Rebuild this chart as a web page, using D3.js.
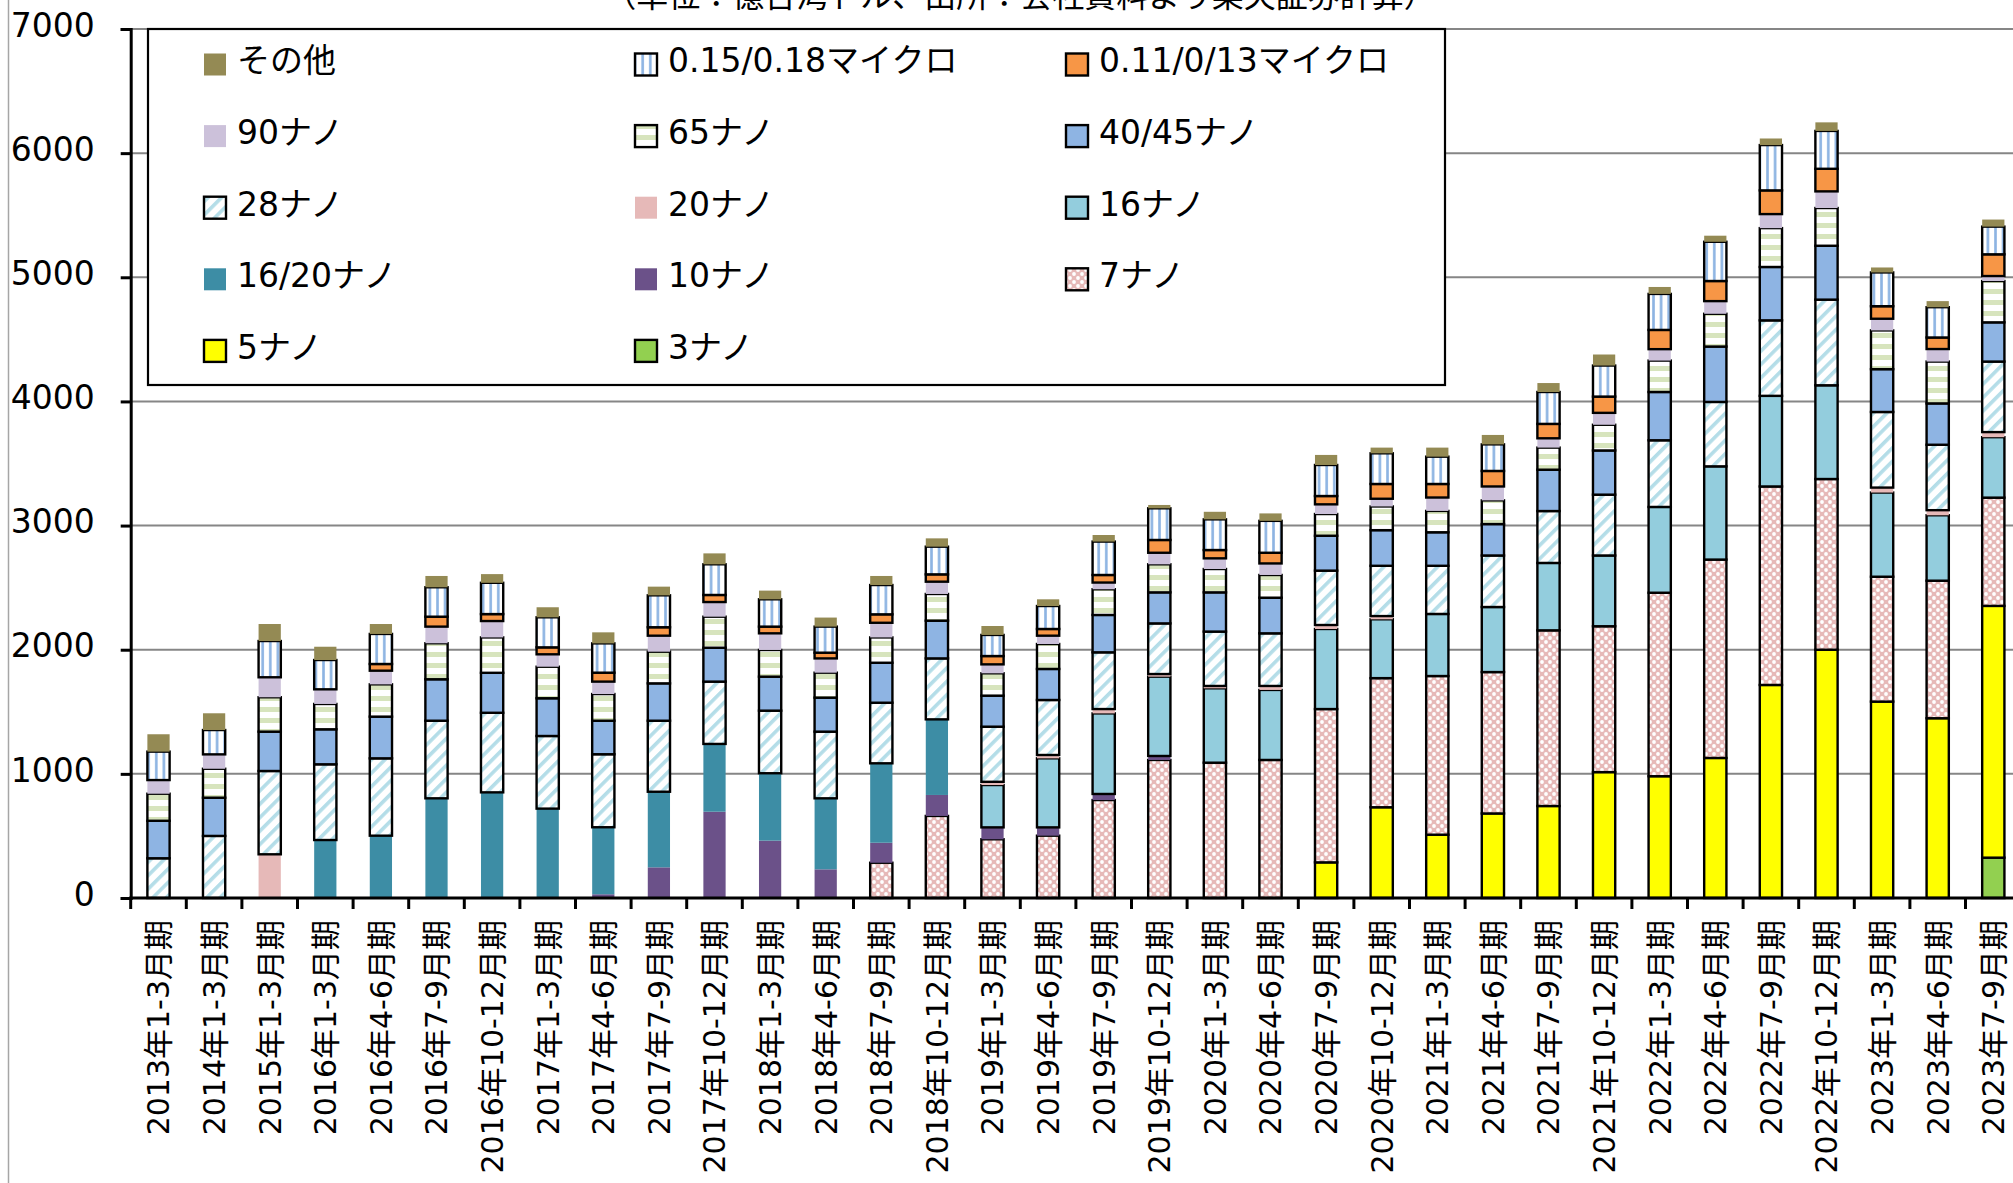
<!DOCTYPE html>
<html><head><meta charset="utf-8">
<script src="https://cdn.jsdelivr.net/npm/d3@7"></script>
<style>
html,body{margin:0;padding:0;background:#fff;overflow:hidden}
svg{display:block}
</style></head><body>
<svg id="chart" width="2013" height="1183"></svg>
<script>
// ---------------- DATA ----------------
const categories = ["2013年1-3月期","2014年1-3月期","2015年1-3月期","2016年1-3月期","2016年4-6月期","2016年7-9月期","2016年10-12月期","2017年1-3月期","2017年4-6月期","2017年7-9月期","2017年10-12月期","2018年1-3月期","2018年4-6月期","2018年7-9月期","2018年10-12月期","2019年1-3月期","2019年4-6月期","2019年7-9月期","2019年10-12月期","2020年1-3月期","2020年4-6月期","2020年7-9月期","2020年10-12月期","2021年1-3月期","2021年4-6月期","2021年7-9月期","2021年10-12月期","2022年1-3月期","2022年4-6月期","2022年7-9月期","2022年10-12月期","2023年1-3月期","2023年4-6月期","2023年7-9月期"];

const nm3   = [0,0,0,0,0,0,0,0,0,0,0,0,0,0,0,0,0,0,0,0,0,0,0,0,0,0,0,0,0,0,0,0,0,325];
const nm5   = [0,0,0,0,0,0,0,0,0,0,0,0,0,0,0,0,0,0,0,0,0,287,731,510,681,741,1014,981,1128,1716,2000,1582,1448,2028];
const nm7   = [0,0,0,0,0,0,0,0,0,0,0,0,0,284,661,473,502,789,1112,1090,1112,1235,1040,1278,1139,1415,1175,1478,1598,1599,1375,1006,1108,872];
const nm10  = [0,0,0,0,0,0,0,0,30,247,695,462,231,161,169,96,67,49,32,0,0,0,0,0,0,0,0,0,0,0,0,0,0,0];
const nm1620= [0,0,0,467,502,803,851,720,540,609,546,543,572,640,609,0,0,0,0,0,0,0,0,0,0,0,0,0,0,0,0,0,0,0];
const nm16  = [0,0,0,0,0,0,0,0,0,0,0,0,0,0,0,341,556,649,639,599,564,645,474,500,524,543,570,691,751,730,755,678,527,487];
const nm20  = [0,0,352,0,0,0,0,0,0,0,0,0,0,0,0,26,27,35,21,19,32,32,26,0,0,0,0,0,0,0,0,40,41,41];
const nm28  = [320,500,671,610,623,625,641,585,588,572,502,504,537,488,491,444,443,457,408,438,424,438,405,388,415,418,490,537,519,608,690,609,527,568];
const nm4045= [302,308,317,282,336,334,322,304,270,301,273,274,274,322,304,250,250,301,250,316,287,281,287,270,253,333,356,389,446,430,434,345,333,316];
const nm65  = [218,233,277,204,260,290,285,254,215,255,250,215,201,204,215,180,201,207,226,188,183,175,191,172,191,178,207,253,264,313,304,312,337,333];
const nm90  = [110,116,161,118,110,134,132,100,100,129,118,134,115,118,99,72,67,54,93,86,93,78,62,108,112,75,96,92,102,113,134,94,101,40];
const um011 = [0,0,0,0,54,80,56,56,72,68,57,54,46,68,59,67,54,61,103,67,86,67,119,109,125,116,131,155,162,191,182,101,93,175];
const um015 = [229,196,292,236,242,237,252,242,236,257,247,220,210,236,223,170,185,269,255,247,257,250,247,220,214,257,250,290,316,365,305,272,244,223];
const others= [140,135,137,107,80,91,70,81,89,70,88,70,73,73,67,72,54,53,27,61,60,81,46,73,76,72,89,56,49,53,69,40,49,57];

const yTickValues = [0,1000,2000,3000,4000,5000,6000,7000];
const titleText = "（単位：億台湾ドル、出所：会社資料より楽天証券計算）";

// legend order (row-major, 3 columns)
const legendOrder = ["other","u015","u011","n90","n65","n4045","n28","n20","n16","n1620","n10","n7","n5","n3"];

// ---------------- SERIES DEFINITIONS (bottom to top) ----------------
const seriesDefs = [
  {key:"n3",    name:"3ナノ",            values:nm3,    fill:"#92D050",      border:true},
  {key:"n5",    name:"5ナノ",            values:nm5,    fill:"#FFFF00",      border:true},
  {key:"n7",    name:"7ナノ",            values:nm7,    fill:"url(#p7)",     border:true},
  {key:"n10",   name:"10ナノ",           values:nm10,   fill:"#6B5189",      border:false},
  {key:"n1620", name:"16/20ナノ",        values:nm1620, fill:"#3D8DA5",      border:false},
  {key:"n16",   name:"16ナノ",           values:nm16,   fill:"#93CDDD",      border:true},
  {key:"n20",   name:"20ナノ",           values:nm20,   fill:"#E6B9B8",      border:false},
  {key:"n28",   name:"28ナノ",           values:nm28,   fill:"url(#p28)",    border:true},
  {key:"n4045", name:"40/45ナノ",        values:nm4045, fill:"#8EB4E3",      border:true},
  {key:"n65",   name:"65ナノ",           values:nm65,   fill:"url(#p65)",    border:true},
  {key:"n90",   name:"90ナノ",           values:nm90,   fill:"#CCC1DA",      border:false},
  {key:"u011",  name:"0.11/0/13マイクロ", values:um011,  fill:"#F79646",      border:true},
  {key:"u015",  name:"0.15/0.18マイクロ", values:um015,  fill:"url(#p015)",   border:true},
  {key:"other", name:"その他",            values:others, fill:"#948A54",      border:false}
];

// table for d3.stack
const table = categories.map((c,i)=>{
  const row = {cat:c};
  seriesDefs.forEach(s=>{ row[s.key] = s.values[i]; });
  return row;
});

// ---------------- SETUP ----------------
const svg = d3.select("#chart");
const FONT = "'DejaVu Sans','Noto Sans CJK JP',sans-serif";
const axisX0 = 130.7, axisY0 = 898, axisYTop = 29;

const x = d3.scaleBand().domain(categories)
  .range([axisX0, axisX0 + 55.6*categories.length])
  .paddingInner(0.6).paddingOuter(0.3);
const y = d3.scaleLinear().domain([0,7000]).range([axisY0, axisYTop]);

// patterns
const defs = svg.append("defs");
const p28 = defs.append("pattern").attr("id","p28").attr("patternUnits","userSpaceOnUse")
  .attr("width",9.5).attr("height",9.5).attr("patternTransform","rotate(45)");
p28.append("rect").attr("width",9.5).attr("height",9.5).attr("fill","#fff");
p28.append("rect").attr("x",0).attr("width",3.6).attr("height",9.5).attr("fill","#B4DDE8");
const p015 = defs.append("pattern").attr("id","p015").attr("patternUnits","userSpaceOnUse")
  .attr("width",7.6).attr("height",10);
p015.append("rect").attr("width",7.6).attr("height",10).attr("fill","#fff");
p015.append("rect").attr("x",3).attr("width",2.6).attr("height",10).attr("fill","#8DB4E2");
const p65 = defs.append("pattern").attr("id","p65").attr("patternUnits","userSpaceOnUse")
  .attr("width",10).attr("height",11);
p65.append("rect").attr("width",10).attr("height",11).attr("fill","#fff");
p65.append("rect").attr("y",3).attr("width",10).attr("height",5).attr("fill","#D7E4BD");
const p7 = defs.append("pattern").attr("id","p7").attr("patternUnits","userSpaceOnUse")
  .attr("width",8).attr("height",8);
p7.append("rect").attr("width",8).attr("height",8).attr("fill","#E6B9B8");
p7.append("circle").attr("cx",2).attr("cy",2).attr("r",1.9).attr("fill","#fff");
p7.append("circle").attr("cx",6).attr("cy",6).attr("r",1.9).attr("fill","#fff");

// left border line
svg.append("line").attr("x1",8.5).attr("x2",8.5).attr("y1",0).attr("y2",1183)
  .attr("stroke","#A6A6A6").attr("stroke-width",1.5);

// title (top clipped as in the reference)
svg.append("text").attr("x",1020).attr("y",7).attr("text-anchor","middle")
  .attr("font-family",FONT).attr("font-size",32).attr("fill","#000").text(titleText);

// gridlines
svg.append("g").selectAll("line").data(yTickValues.filter(v=>v>0)).join("line")
  .attr("x1",axisX0).attr("x2",2013).attr("y1",d=>y(d)).attr("y2",d=>y(d))
  .attr("stroke","#868686").attr("stroke-width",2);

// stacked bars
const stack = d3.stack().keys(seriesDefs.map(s=>s.key));
const stacked = stack(table);
const gBars = svg.append("g");
stacked.forEach((layer,li)=>{
  const def = seriesDefs[li];
  gBars.append("g").selectAll("rect")
    .data(layer.filter(d=>d[1]-d[0]>0))
    .join("rect")
    .attr("x",d=>x(d.data.cat))
    .attr("width",x.bandwidth())
    .attr("y",d=>y(d[1]))
    .attr("height",d=>y(d[0])-y(d[1]))
    .attr("fill",def.fill)
    .attr("stroke",def.border?"#000":"none")
    .attr("stroke-width",def.border?2.4:0);
});

// y axis
const yAxis = d3.axisLeft(y).tickValues(yTickValues).tickSize(10).tickPadding(26).tickFormat(d3.format("d"));
const gy = svg.append("g").attr("transform",`translate(${axisX0},0)`).call(yAxis);
gy.select(".domain").attr("stroke","#000").attr("stroke-width",3);
gy.selectAll(".tick line").attr("stroke","#000").attr("stroke-width",3);
gy.selectAll(".tick text").attr("font-family",FONT).attr("font-size",33).attr("fill","#000").attr("dy","0.22em");

// x axis
const xAxis = d3.axisBottom(x).tickSize(0).tickPadding(0);
const gx = svg.append("g").attr("transform",`translate(0,${axisY0})`).call(xAxis);
gx.select(".domain").remove();
gx.selectAll(".tick text")
  .attr("font-family",FONT).attr("font-size",30).attr("fill","#000")
  .attr("transform","rotate(-90)").attr("text-anchor","end")
  .attr("x",-22).attr("y",0).attr("dy","0.36em");
svg.append("line").attr("x1",axisX0-1.5).attr("x2",2013).attr("y1",axisY0).attr("y2",axisY0)
  .attr("stroke","#000").attr("stroke-width",3);
const bounds = d3.range(categories.length+1).map(i=>x.range()[0]+i*x.step());
svg.append("g").selectAll("line").data(bounds).join("line")
  .attr("x1",d=>d).attr("x2",d=>d).attr("y1",axisY0).attr("y2",axisY0+11)
  .attr("stroke","#000").attr("stroke-width",3);

// legend
const legBox = {x:148, y:29, w:1297, h:356};
svg.append("rect").attr("x",legBox.x).attr("y",legBox.y).attr("width",legBox.w).attr("height",legBox.h)
  .attr("fill","#fff").attr("stroke","#000").attr("stroke-width",2.2);
const defByKey = Object.fromEntries(seriesDefs.map(s=>[s.key,s]));
const gLeg = svg.append("g");
legendOrder.forEach((k,i)=>{
  const s = defByKey[k];
  const col = i%3, row = Math.floor(i/3);
  const sx = 204 + col*431, cy = 64.5 + row*71.6;
  gLeg.append("rect").attr("x",sx).attr("y",cy-11).attr("width",22).attr("height",22)
    .attr("fill",s.fill).attr("stroke",s.border?"#000":"none").attr("stroke-width",s.border?2.4:0);
  gLeg.append("text").attr("x",sx+33).attr("y",cy-4).attr("dy","0.36em")
    .attr("font-family",FONT).attr("font-size",33).attr("fill","#000").text(s.name);
});
</script>
</body></html>
